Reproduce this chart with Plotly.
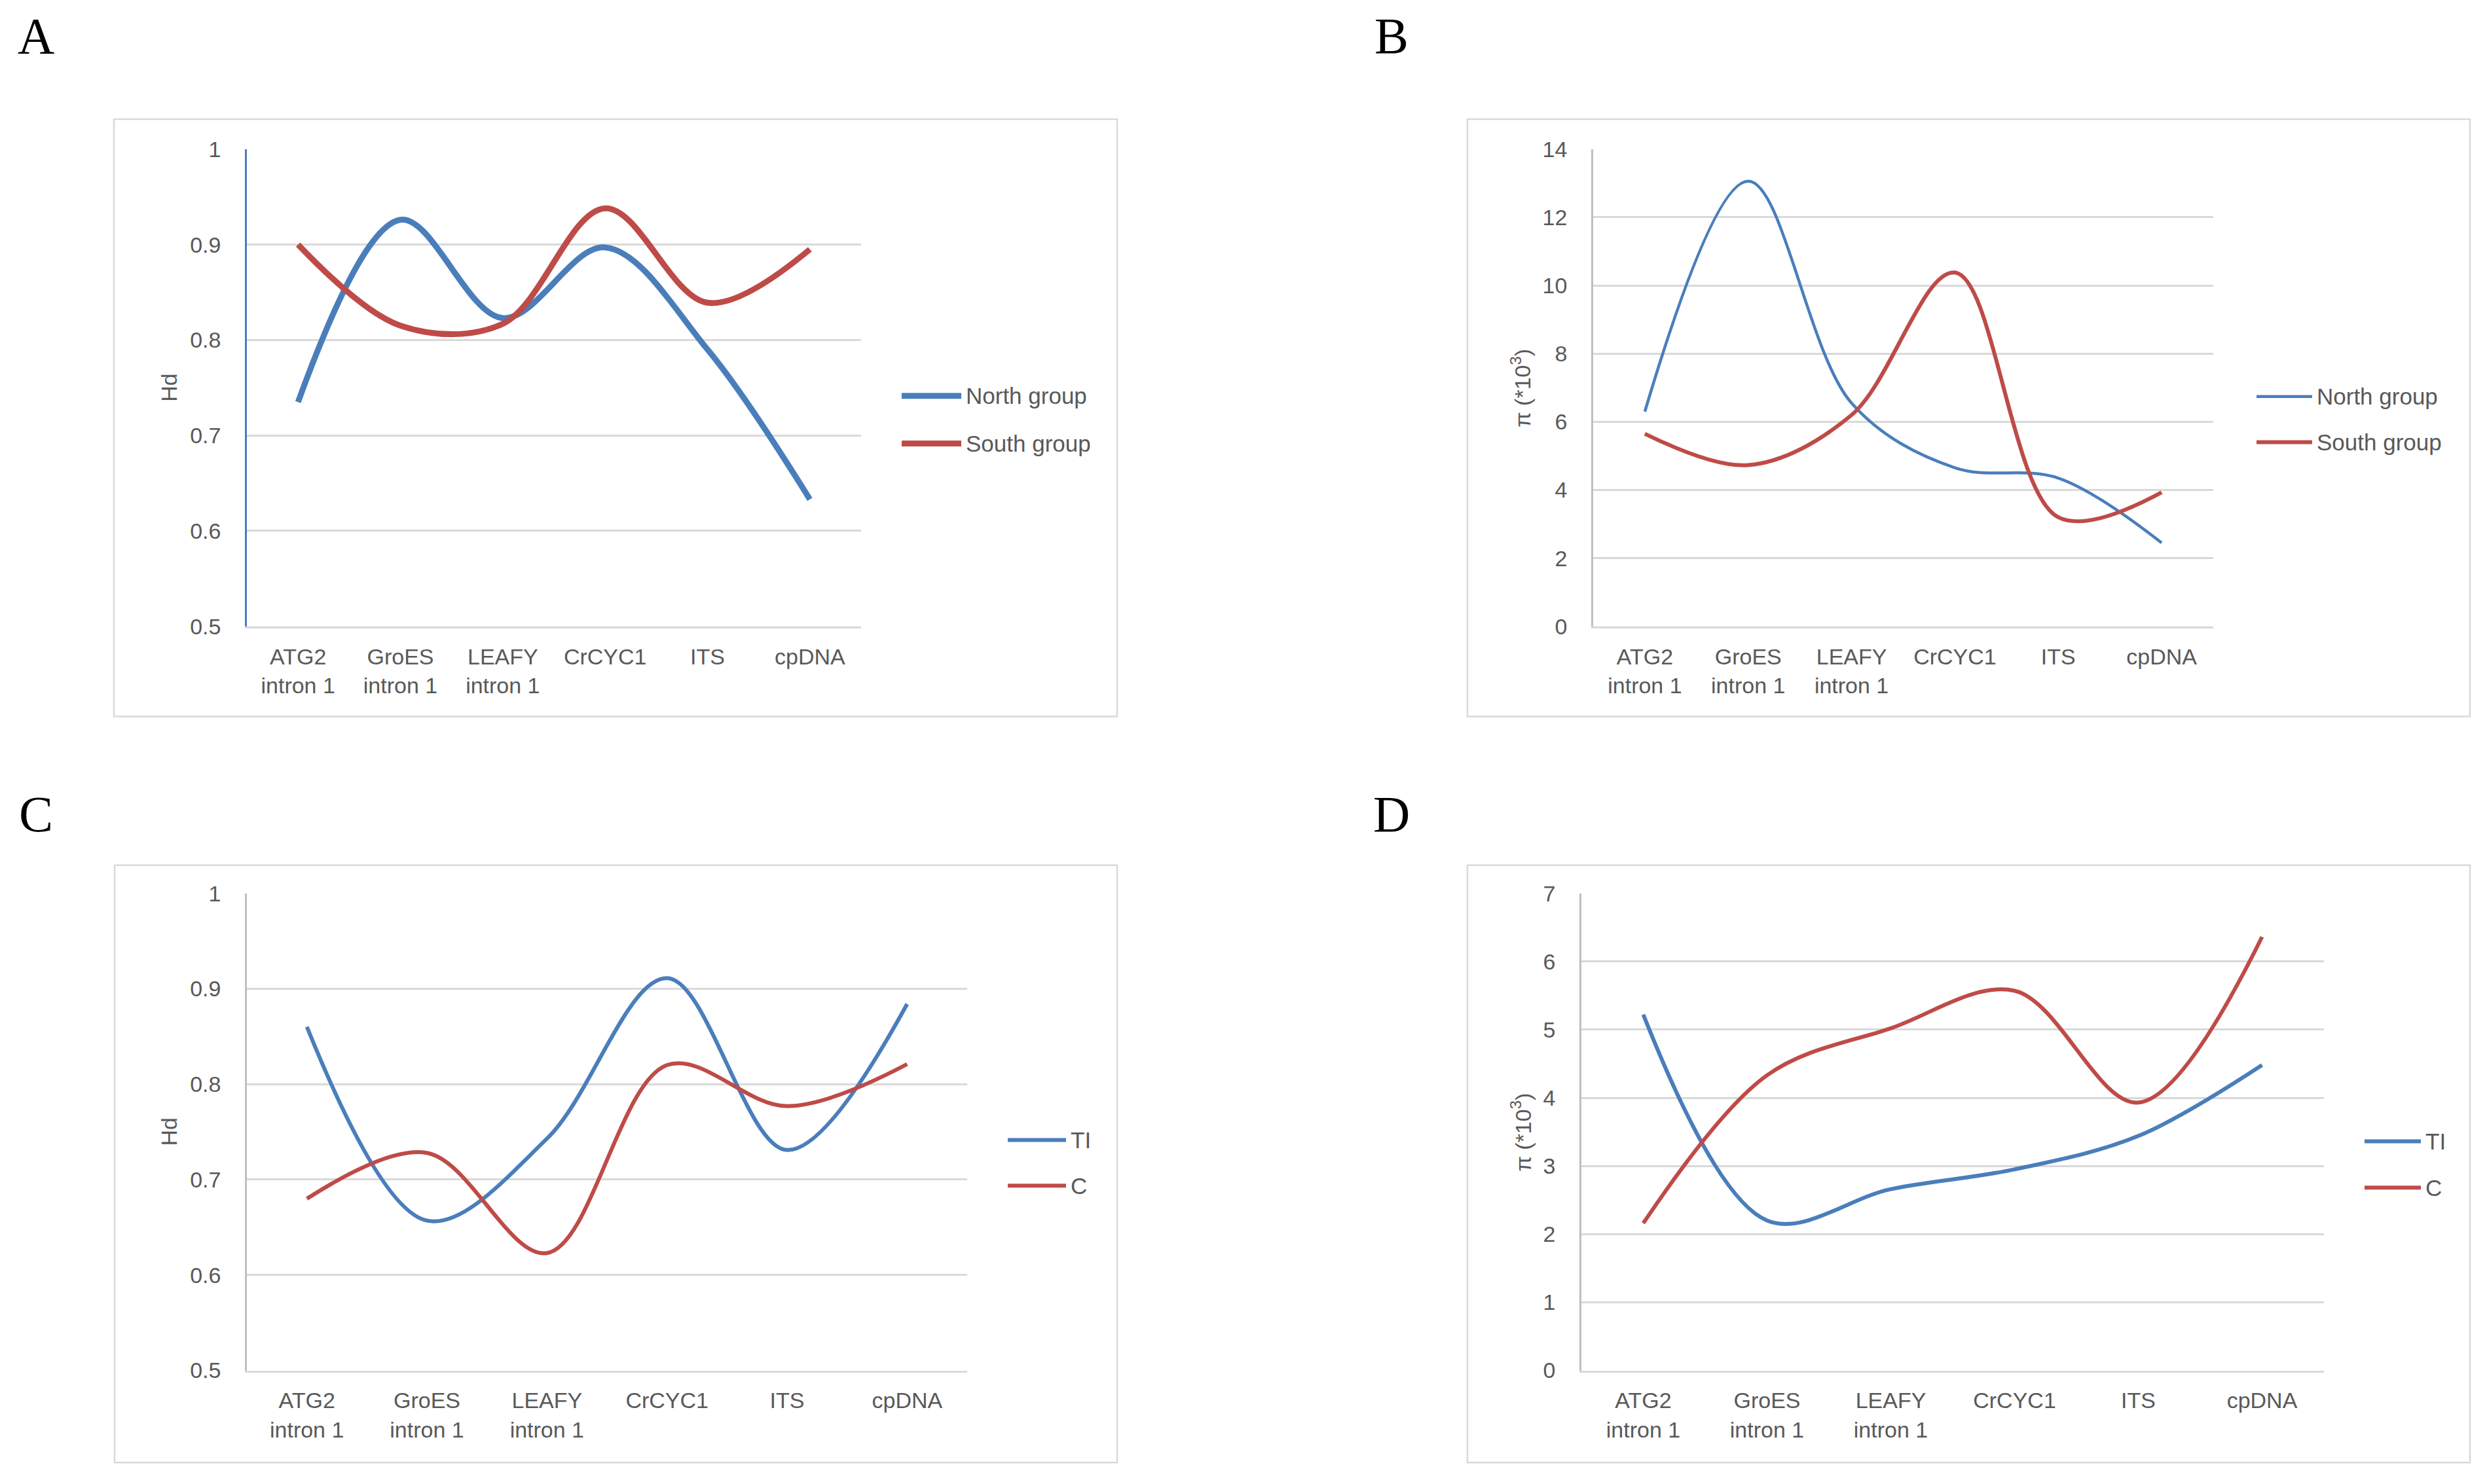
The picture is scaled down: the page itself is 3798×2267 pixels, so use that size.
import plotly.graph_objects as go

# canvas size in pixels
W, H = 3798, 2267

genes = ["ATG2", "GroES", "LEAFY", "CrCYC1", "ITS", "cpDNA"]
gene_labels = ["ATG2<br>intron 1", "GroES<br>intron 1", "LEAFY<br>intron 1", "CrCYC1", "ITS", "cpDNA"]

group_names = ["North group", "South group"]
pop_names = ["TI", "C"]

# A: haplotype diversity by group
hd_north = [0.735, 0.926, 0.823, 0.897, 0.790, 0.633]
hd_south = [0.900, 0.815, 0.817, 0.938, 0.839, 0.895]

# B: nucleotide diversity (x10^3) by group
pi_north = [6.30, 13.06, 6.55, 4.65, 4.35, 2.45]
pi_south = [5.65, 4.73, 6.20, 10.38, 3.20, 3.93]

# C: haplotype diversity by population
hd_ti = [0.860, 0.657, 0.743, 0.911, 0.731, 0.884]
hd_c = [0.680, 0.728, 0.623, 0.820, 0.777, 0.821]

# D: nucleotide diversity (x10^3) by population
pi_ti = [5.22, 2.20, 2.66, 2.95, 3.44, 4.48]
pi_c = [2.16, 4.33, 5.02, 5.57, 3.93, 6.36]

BLUE = "#4A7EBB"
RED = "#BE4B48"
GRID = "#D9D9D9"
TEXT = "#595959"
FONT = "Liberation Sans"


# pixel -> paper, with a small correction for where the page lands in the screenshot
def fx(px):
    return (px - 7) / W


def fy(py):
    return 1 - (1.0142 * py - 27.0) / H


panels = [
    dict(letter="A", letter_xy=(54, 54), box=(173, 182, 1705, 1097), plot=(376, 228, 1314, 959),
         yrange=[0.5, 1], dtick=0.1, ytitle="Hd", ytitle_xy=(257, 594),
         series=[hd_north, hd_south], names=group_names, widths=[9, 9], yline=BLUE,
         legend=(1376, 1467, 606, 679)),
    dict(letter="B", letter_xy=(2124, 54), box=(2240, 182, 3771, 1097), plot=(2432, 228, 3379, 959),
         yrange=[0, 14], dtick=2, ytitle="π (*10<sup>3</sup>)", ytitle_xy=(2322, 594),
         series=[pi_north, pi_south], names=group_names, widths=[4.5, 6], yline="#BFBFBF",
         legend=(3445, 3530, 607, 677)),
    dict(letter="C", letter_xy=(54, 1247), box=(174, 1325, 1705, 2240), plot=(376, 1368, 1476, 2099),
         yrange=[0.5, 1], dtick=0.1, ytitle="Hd", ytitle_xy=(257, 1734),
         series=[hd_ti, hd_c], names=pop_names, widths=[6, 6], yline="#BFBFBF",
         legend=(1538, 1627, 1746, 1816)),
    dict(letter="D", letter_xy=(2124, 1247), box=(2240, 1325, 3771, 2240), plot=(2414, 1368, 3548, 2099),
         yrange=[0, 7], dtick=1, ytitle="π (*10<sup>3</sup>)", ytitle_xy=(2322, 1734),
         series=[pi_ti, pi_c], names=pop_names, widths=[6, 6], yline="#BFBFBF",
         legend=(3610, 3696, 1748, 1819)),
]

fig = go.Figure()
shapes = []
annotations = []
colors = [BLUE, RED]

for i, p in enumerate(panels):
    sfx = "" if i == 0 else str(i + 1)
    xa, ya = "x" + sfx, "y" + sfx

    for vals, name, col, lw in zip(p["series"], p["names"], colors, p["widths"]):
        fig.add_trace(go.Scatter(
            x=genes, y=vals, name=name, mode="lines",
            line=dict(color=col, width=lw, shape="spline", smoothing=1.0),
            xaxis=xa, yaxis=ya, showlegend=False,
        ))

    x0, y0, x1, y1 = p["plot"]
    fig.update_layout(**{
        "xaxis" + sfx: dict(
            domain=[fx(x0), fx(x1)], anchor=ya, type="category",
            categoryorder="array", categoryarray=genes,
            tickvals=genes, ticktext=gene_labels, range=[-0.5, 5.5],
            showgrid=False, showline=True, linecolor=GRID, linewidth=3,
            ticks="", ticklabelstandoff=14, zeroline=False,
            tickfont=dict(family=FONT, size=34, color=TEXT),
        ),
        "yaxis" + sfx: dict(
            domain=[fy(y1), fy(y0)], anchor=xa, range=p["yrange"],
            tickmode="linear", tick0=p["yrange"][0], dtick=p["dtick"],
            showgrid=True, gridcolor=GRID, gridwidth=2.5,
            showline=True, linecolor=p["yline"], linewidth=2.5,
            ticks="", ticklabelstandoff=30, zeroline=False,
            tickfont=dict(family=FONT, size=34, color=TEXT),
        ),
    })

    # chart border
    bx0, by0, bx1, by1 = p["box"]
    shapes.append(dict(type="rect", xref="paper", yref="paper",
                       x0=fx(bx0), y0=fy(by1), x1=fx(bx1), y1=fy(by0),
                       line=dict(color=GRID, width=2.5), layer="below"))

    # panel letter
    lx, ly = p["letter_xy"]
    annotations.append(dict(text=p["letter"], x=fx(lx), y=fy(ly), xref="paper", yref="paper",
                            showarrow=False, xanchor="center", yanchor="middle",
                            font=dict(family="Liberation Serif", size=78, color="black")))

    # y axis title
    tx, ty = p["ytitle_xy"]
    annotations.append(dict(text=p["ytitle"], x=fx(tx), y=fy(ty), xref="paper", yref="paper",
                            showarrow=False, textangle=-90, xanchor="center", yanchor="middle",
                            font=dict(family=FONT, size=34, color=TEXT)))

    # legend
    lx0, lx1, ly_a, ly_b = p["legend"]
    for name, col, lw, yy in zip(p["names"], colors, p["widths"], [ly_a, ly_b]):
        shapes.append(dict(type="line", xref="paper", yref="paper",
                           x0=fx(lx0), x1=fx(lx1), y0=fy(yy), y1=fy(yy),
                           line=dict(color=col, width=lw)))
        annotations.append(dict(text=name, x=fx(lx1 + 5), y=fy(yy), xref="paper", yref="paper",
                                showarrow=False, xanchor="left", yanchor="middle",
                                font=dict(family=FONT, size=35, color=TEXT)))

fig.update_layout(
    width=W, height=H,
    margin=dict(l=0, r=0, t=0, b=0),
    paper_bgcolor="white", plot_bgcolor="white",
    showlegend=False,
    shapes=shapes, annotations=annotations,
)

fig.write_html("out.html")
